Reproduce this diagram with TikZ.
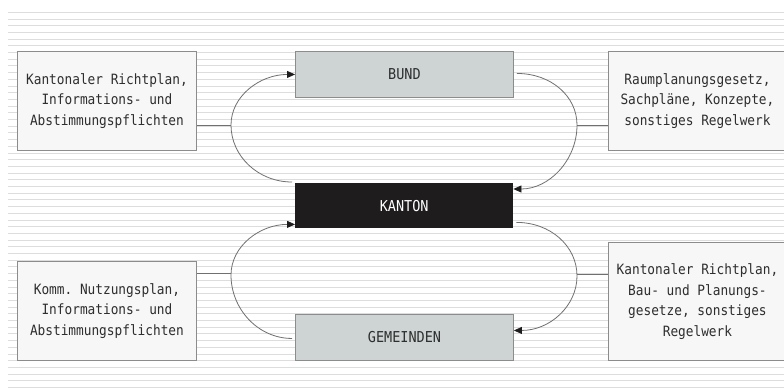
\documentclass[tikz,border=0pt]{standalone}
\usepackage{fontspec}
\setmonofont[FakeStretch=0.9]{DejaVu Sans Mono}
\usetikzlibrary{calc,arrows.meta}

\definecolor{rule}{HTML}{DDDDDD}
\definecolor{frame}{HTML}{8C8C8C}
\definecolor{paper}{HTML}{F7F7F7}
\definecolor{level}{HTML}{CED3D3}
\definecolor{ink}{HTML}{2E2E2E}
\definecolor{wire}{HTML}{707070}
\definecolor{dark}{HTML}{1E1C1C}

\tikzset{
  sidebox/.style={draw=frame, fill=paper, line width=0.9pt, anchor=north west,
    minimum width=179pt, minimum height=99pt, inner sep=0pt, align=center,
    text=ink, font=\ttfamily\fontsize{14.2}{20.7}\selectfont},
  levelbox/.style={draw=frame, fill=level, line width=0.9pt, anchor=north west,
    minimum width=218pt, minimum height=46pt, inner sep=0pt,
    text=ink, font=\ttfamily\fontsize{15}{18}\selectfont},
  cantonbox/.style={fill=dark, anchor=north west,
    minimum width=218pt, minimum height=45pt, inner sep=0pt,
    text=white, font=\ttfamily\fontsize{15}{18}\selectfont},
  loop/.style={draw=wire, line width=0.8pt},
  loopin/.style={loop, -{Triangle[length=8pt,width=7pt,fill=dark,color=dark]}},
  link/.style={draw=wire, line width=0.9pt}
}

\begin{document}
\begin{tikzpicture}[x=1pt,y=-1pt]
  \useasboundingbox (0,0) rectangle (784,388);
  \clip (0,0) rectangle (784,388);
  \fill[white] (0,0) rectangle (784,388);

  % ruled paper
  \foreach \i in {0,...,56}{
    \pgfmathsetmacro{\yy}{12.3+6.7*\i}
    \draw[rule, line width=0.9pt] (8,\yy) -- (784,\yy);
  }

  % government levels
  \node[levelbox]  (bund)      at (295,51)  {BUND};
  \node[cantonbox] (kanton)    at (295,183) {KANTON};
  \node[levelbox]  (gemeinden) at (295,314) {GEMEINDEN};

  % instruments (the right-hand boxes run off the page edge)
  \node[sidebox] (ktop) at (17,51)
    {Kantonaler Richtplan,\\Informations- und\\Abstimmungspflichten};
  \node[sidebox] (kbot) at (17,261)
    {Komm. Nutzungsplan,\\Informations- und\\Abstimmungspflichten};
  \node[sidebox, minimum width=178pt] (btop) at (608,51)
    {Raumplanungsgesetz,\\Sachpläne, Konzepte,\\sonstiges Regelwerk};
  \node[sidebox, minimum width=178pt, minimum height=118pt] (bbot) at (608,242)
    {Kantonaler Richtplan,\\Bau- und Planungs-\\gesetze, sonstiges\\Regelwerk};

  % turning points of the loops
  \coordinate (lt) at (231,125);
  \coordinate (rt) at (577,125);
  \coordinate (lb) at (231,275);
  \coordinate (rb) at (577,276);

  % upper loop: Kanton -> Bund -> Kanton
  \draw[loopin] ($(kanton.north west)+(-3,-1)$) .. controls +(-34,0) and +(0,31) .. (lt)
    .. controls +(0,-29) and +(-35,0) .. (bund.west);
  \draw[loopin] ($(bund.east)+(3,-1)$) .. controls +(34,0) and +(0,-29) .. (rt)
    .. controls +(0,35) and +(36,0) .. ($(kanton.north east)+(0,6)$);

  % lower loop: Gemeinden -> Kanton -> Gemeinden
  \draw[loopin] ($(gemeinden.west)+(-3,1)$) .. controls +(-34,0) and +(0,34) .. (lb)
    .. controls +(0,-29) and +(-35,0) .. ($(kanton.south west)+(0,-4)$);
  \draw[loopin] ($(kanton.south east)+(3,-6)$) .. controls +(34,0) and +(0,-30) .. (rb)
    .. controls +(0,30) and +(36,0) .. ($(gemeinden.east)+(0,-7)$);

  % links from instruments to the loops
  \draw[link] (ktop.east |- lt) -- (lt);
  \draw[link] (btop.west |- rt) -- (rt);
  \draw[link] (kbot.east |- 0,273) -- (lb |- 0,273);
  \draw[link] (bbot.west |- 0,274) -- (rb |- 0,274);
\end{tikzpicture}
\end{document}
